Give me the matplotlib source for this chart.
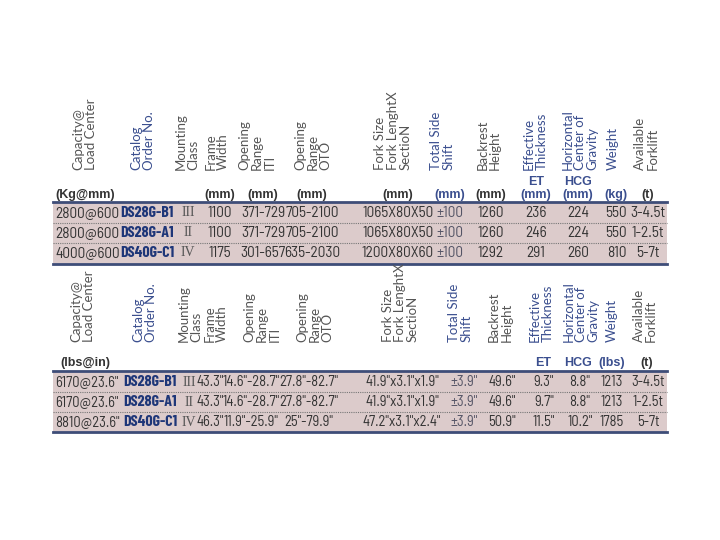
import matplotlib
matplotlib.use("Agg")
import matplotlib.pyplot as plt

# ---- data ----
headers = ["Capacity@\nLoad Center", "Catalog\nOrder No.", "Mounting\nClass", "Frame\nWidth",
           "Opening\nRange\nITI", "Opening\nRange\nOTO", "Fork Size\nFork LenghtX\nSectioN",
           "Total Side\nShift", "Backrest\nHeight", "Effective\nThickness",
           "Horizontal\nCenter of\nGravity", "Weight", "Available\nForklift"]
header_blue = [False, True, False, False, False, False, False, True, False, True, True, True, False]
units_metric = ["(Kg@mm)", "", "", "(mm)", "(mm)", "(mm)", "(mm)", "(mm)", "(mm)", "ET\n(mm)", "HCG\n(mm)", "(kg)", "(t)"]
units_imp = ["(lbs@in)", "", "", "", "", "", "", "", "", "ET", "HCG", "(lbs)", "(t)"]

capacity_m = ["2800@600", "2800@600", "4000@600"]
catalog = ["DS28G-B1", "DS28G-A1", "DS40G-C1"]
mount = ["III", "II", "IV"]
frame_m = ["1100", "1100", "1175"]
iti_m = ["371-729", "371-729", "301-657"]
oto_m = ["705-2100", "705-2100", "635-2030"]
fork_m = ["1065X80X50", "1065X80X50", "1200X80X60"]
shift_m = ["±100", "±100", "±100"]
backrest_m = ["1260", "1260", "1292"]
et_m = ["236", "246", "291"]
hcg_m = ["224", "224", "260"]
weight_m = ["550", "550", "810"]
forklift = ["3-4.5t", "1-2.5t", "5-7t"]

capacity_i = ['6170@23.6"', '6170@23.6"', '8810@23.6"']
frame_i = ['43.3"', '43.3"', '46.3"']
iti_i = ['14.6"-28.7"', '14.6"-28.7"', '11.9"-25.9"']
oto_i = ['27.8"-82.7"', '27.8"-82.7"', '25"-79.9"']
fork_i = ['41.9"x3.1"x1.9"', '41.9"x3.1"x1.9"', '47.2"x3.1"x2.4"']
shift_i = ['±3.9"', '±3.9"', '±3.9"']
backrest_i = ['49.6"', '49.6"', '50.9"']
et_i = ['9.3"', '9.7"', '11.5"']
hcg_i = ['8.8"', '8.8"', '10.2"']
weight_i = ["1213", "1213", "1785"]

# ---- styles ----
BLUE = "#3b4f8f"
DARKBLUE = "#1e3678"
BAND = "#dccbcb"
LINE = "#3e4d78"
GRAY = "#333333"
SANS = ["Liberation Sans", "DejaVu Sans"]
NARROW = ["Barlow Semi Condensed", "DejaVu Sans"]
BOLDC = ["Barlow Condensed", "DejaVu Sans"]
SERIF = ["Liberation Serif", "DejaVu Serif"]

fig = plt.figure(figsize=(7.2, 5.4), dpi=100)
ax = fig.add_axes([0, 0, 1, 1])
ax.set_xlim(0, 720)
ax.set_ylim(540, 0)
ax.axis("off")

def table(top_hdr, hdr_x, unit_y, units, unit_x, band_top, band_bot, row_y, rows, row_x, row_ha, fs):
    for h, x, b in zip(headers, hdr_x, header_blue):
        ax.text(x, top_hdr, h, rotation=90, ha="center", va="bottom", fontsize=9.5,
                family=["Lato", "DejaVu Sans"], color=BLUE if b else "#555555",
                multialignment="left", linespacing=1.05)
    for u, x in zip(units, unit_x):
        if not u:
            continue
        if u.startswith("ET") or u.startswith("HCG"):
            parts = u.split("\n")
            ax.text(x, unit_y - (13 if len(parts) > 1 else 0), parts[0], ha="center", va="center",
                    fontsize=9, fontweight="bold", color=BLUE, family=SANS)
            if len(parts) > 1:
                ax.text(x, unit_y, parts[1], ha="center", va="center", fontsize=9,
                        fontweight="bold", color=BLUE, family=SANS)
        else:
            col = BLUE if (u in ("(kg)", "(lbs)") or 420 < x < 470) else GRAY
            left = u.startswith("(Kg") or u.startswith("(lbs@")
            ax.text(x, unit_y, u, ha="left" if left else "center",
                    va="center", fontsize=9, fontweight="bold", color=col, family=SANS)
    ax.fill_between([53, 667], band_top, band_bot, color=BAND, lw=0, zorder=0)
    ax.plot([53, 667], [band_top, band_top], color=LINE, lw=2)
    ax.plot([53, 667], [band_bot, band_bot], color=LINE, lw=2)
    for i in range(len(row_y) - 1):
        ym = (row_y[i] + row_y[i + 1]) / 2
        ax.plot([53, 667], [ym, ym], color="#777777", lw=0.8, ls=(0, (1, 1)))
    for c, (vals, x, ha) in enumerate(zip(rows, row_x, row_ha)):
        for y, v in zip(row_y, vals):
            if c == 1:
                ax.text(x, y, v, ha=ha, va="center", fontsize=11.5, fontweight="bold",
                        color=DARKBLUE, family=BOLDC)
            elif c == 2:
                ax.text(x, y, v, ha=ha, va="center", fontsize=10, color="#555555", family=SERIF)
            else:
                col = "#555566" if c == 7 else GRAY
                ax.text(x, y, v, ha=ha, va="center", fontsize=fs, color=col, family=NARROW)

# metric table
table(170, [85, 143, 187, 217, 257, 313, 393, 442, 489, 535, 580, 613, 646],
      195, units_metric, [55, 0, 0, 220, 263, 312, 398, 450, 491, 536, 578, 616, 648],
      202, 264, [213, 233, 253],
      [capacity_m, catalog, mount, frame_m, iti_m, oto_m, fork_m, shift_m, backrest_m,
       et_m, hcg_m, weight_m, forklift],
      [55, 147, 188, 220, 263, 312, 398, 450, 491, 536, 578, 627, 648],
      ["left", "center", "center", "center", "center", "center", "center", "center",
       "center", "center", "center", "right", "center"], 11)

# imperial table
table(342, [83, 145, 190, 216, 262, 315, 400, 460, 500, 541, 581, 612, 645],
      363, units_imp, [60, 0, 0, 0, 0, 0, 0, 0, 0, 543, 578, 612, 647],
      371, 432, [382, 402, 422],
      [capacity_i, catalog, mount, frame_i, iti_i, oto_i, fork_i, shift_i, backrest_i,
       et_i, hcg_i, weight_i, forklift],
      [55, 150, 189, 210, 251, 309, 402, 464, 502, 544, 580, 612, 648],
      ["left", "center", "center", "center", "center", "center", "center", "center",
       "center", "center", "center", "center", "center"], 10.5)

fig.savefig("out.png", dpi=100)
